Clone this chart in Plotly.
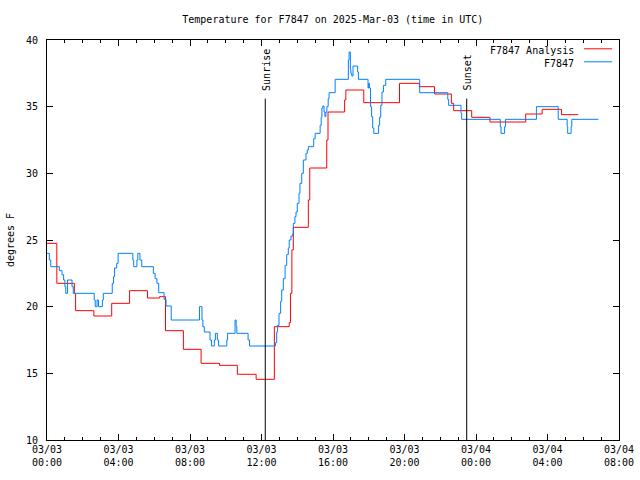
import plotly.graph_objects as go

# ---- data (hours since 2025-03-03 00:00 UTC, degrees F) ----
analysis_hours = [0, 0.55, 1.53, 1.6, 2.62, 3.62, 4.62, 5.62, 6.3, 6.63, 7.63, 8.62, 9.65,
                  10.65, 11.7, 12.72, 13.55, 13.62, 13.7, 13.78, 14.62, 14.7, 15.65, 15.72,
                  16.65, 16.72, 17.72, 19.72, 20.83, 21.68, 22.62, 22.75, 23.76, 24.78,
                  26.78, 27.7, 28.78, 29.72]
analysis_temps = [24.75, 21.75, 21.0, 19.7, 19.3, 20.25, 21.2, 20.65, 20.75, 18.2, 16.8, 15.75,
                  15.6, 14.93, 14.55, 18.5, 18.8, 21.0, 24.25, 25.95, 28.0, 30.4, 32.5, 34.6,
                  35.5, 36.25, 35.3, 36.75, 36.5, 35.95, 35.25, 34.7, 34.2, 33.85,
                  34.45, 34.8, 34.4, 34.4]

obs_hours = [0, 0.13, 0.21, 0.69, 0.84, 0.93, 1.0, 1.05, 1.15, 1.4, 1.47,
             2.64, 2.7, 2.8, 2.88, 3.1, 3.15,
             3.65, 3.72, 3.78, 3.9, 3.98, 4.8, 4.85, 5.03, 5.08, 5.2, 5.3,
             5.95, 6.05, 6.15, 6.25, 6.55, 6.66, 6.95,
             8.53, 8.67, 8.72, 8.8, 9.12, 9.2, 9.36, 9.42, 9.53, 9.6,
             10.06, 10.1, 10.52, 10.58, 10.62, 11.25, 11.33,
             12.78, 12.85, 12.9, 12.98, 13.07, 13.13, 13.22, 13.32, 13.41, 13.5, 13.55,
             13.65, 13.75, 13.78, 13.87, 13.93, 14.0, 14.1, 14.15, 14.25, 14.34, 14.49,
             14.56, 14.62, 14.92, 15.0, 15.28, 15.34, 15.38, 15.43, 15.5, 15.55, 15.6,
             15.66, 15.73, 15.78, 16.12, 16.86, 16.9, 16.97, 17.0, 17.05, 17.12, 17.38,
             17.42, 17.96, 18.0, 18.04, 18.1, 18.16, 18.22, 18.28, 18.55, 18.61, 18.67,
             18.74, 18.82, 18.95, 20.85, 22.42, 22.47, 23.16, 23.2,
             25.36, 25.4, 25.6, 25.65, 27.38, 28.6, 29.1, 29.13, 29.32, 29.36, 30.85]
obs_temps = [24.0, 23.5, 23.0, 22.7, 22.4, 22.0, 21.5, 21.0, 22.0, 21.5, 21.0,
             20.5, 20.0, 20.5, 20.0, 20.5, 21.0,
             21.75, 22.25, 22.9, 23.25, 24.0, 23.5, 23.0, 23.5, 24.0, 23.5, 23.0,
             22.5, 22.1, 21.75, 21.05, 20.55, 20.05, 19.0,
             20.0, 19.0, 18.5, 18.1, 17.5, 17.05, 17.5, 18.0, 17.5, 17.05,
             17.5, 18.0, 19.0, 18.5, 18.0, 17.5, 17.05,
             17.3, 18.1, 18.6, 19.5, 20.4, 21.25, 22.1, 23.1, 23.9, 24.4, 25.0,
             25.3, 25.5, 26.25, 26.75, 27.1, 27.75, 28.5, 29.25, 30.0, 31.0, 31.5,
             31.75, 32.0, 32.6, 33.0, 33.6, 34.2, 34.9, 35.05, 34.6, 34.25, 34.6,
             35.0, 35.6, 36.05, 37.05, 38.5, 39.1, 37.8, 37.5, 37.3, 38.05, 37.6,
             37.05, 36.4, 36.75, 36.4, 35.0, 34.25, 33.4, 33.0, 33.6, 34.2, 35.1,
             36.1, 36.6, 37.05, 36.05, 35.55, 35.1, 34.5, 34.05,
             33.5, 33.0, 33.5, 34.05, 35.0, 34.05, 33.5, 33.0, 33.5, 34.05, 34.05]

sun_events = ["Sunrise", "Sunset"]
sun_hours = [12.21, 23.48]
sun_line_top = 35.6

tick_hours = [0, 4, 8, 12, 16, 20, 24, 28, 32]
tick_labels = ["03/03<br>00:00", "03/03<br>04:00", "03/03<br>08:00", "03/03<br>12:00",
               "03/03<br>16:00", "03/03<br>20:00", "03/04<br>00:00", "03/04<br>04:00",
               "03/04<br>08:00"]
y_ticks = [10, 15, 20, 25, 30, 35, 40]

legend_names = ["F7847 Analysis", "F7847"]
RED = "#ff0000"
BLUE = "#0080ff"
FONT = "DejaVu Sans Mono"

fig = go.Figure()
fig.add_trace(go.Scatter(x=analysis_hours, y=analysis_temps, mode="lines",
                         line=dict(color=RED, width=1, shape="hv"),
                         name=legend_names[0], showlegend=False))
fig.add_trace(go.Scatter(x=obs_hours, y=obs_temps, mode="lines",
                         line=dict(color=BLUE, width=1, shape="hv"),
                         name=legend_names[1], showlegend=False))

for name, h in zip(sun_events, sun_hours):
    fig.add_trace(go.Scatter(x=[h, h], y=[10, sun_line_top], mode="lines",
                             line=dict(color="black", width=1), showlegend=False,
                             hoverinfo="skip"))
    fig.add_annotation(x=h, y=36.05, xref="x", yref="y", text=name, textangle=-90,
                       showarrow=False, xanchor="center", yanchor="bottom", xshift=1,
                       font=dict(family=FONT, size=10, color="black"))

# legend (gnuplot style: text then sample)
legend_y = [0.975, 0.9425]
for name, col, ly in zip(legend_names, [RED, BLUE], legend_y):
    fig.add_annotation(x=0.925, y=ly, xref="paper", yref="paper", text=name,
                       showarrow=False, xanchor="right", yanchor="middle",
                       font=dict(family=FONT, size=10, color="black"))
    fig.add_shape(type="line", xref="paper", yref="paper", x0=0.939, x1=0.988,
                  y0=ly + 0.003, y1=ly + 0.003, line=dict(color=col, width=1))

fig.update_layout(
    width=640, height=480,
    margin=dict(l=47, r=21, t=40, b=40, autoexpand=False),
    paper_bgcolor="white", plot_bgcolor="white",
    font=dict(family=FONT, size=10, color="black"),
    title=dict(text="Temperature for F7847 on 2025-Mar-03 (time in UTC)",
               x=0.52, xanchor="center", y=0.96, yanchor="middle",
               font=dict(family=FONT, size=10, color="black")),
    showlegend=False,
)
fig.update_xaxes(range=[0, 32], tickvals=tick_hours, ticktext=tick_labels,
                 ticks="inside", ticklen=6, tickcolor="black", showgrid=False,
                 zeroline=False, showline=True, linecolor="black", linewidth=1,
                 mirror="ticks", automargin=False,
                 minor=dict(dtick=1, tick0=0, ticks="inside", ticklen=3,
                            tickcolor="black", showgrid=False),
                 tickfont=dict(family=FONT, size=10, color="black"))
fig.update_yaxes(range=[10, 40], tickvals=y_ticks, ticks="inside", ticklen=6,
                 tickcolor="black", showgrid=False, zeroline=False, showline=True,
                 linecolor="black", linewidth=1, mirror="ticks", automargin=False,
                 ticklabelstandoff=6,
                 title=dict(text="degrees F", standoff=9,
                            font=dict(family=FONT, size=10, color="black")),
                 tickfont=dict(family=FONT, size=10, color="black"))

fig.write_html("out.html")
